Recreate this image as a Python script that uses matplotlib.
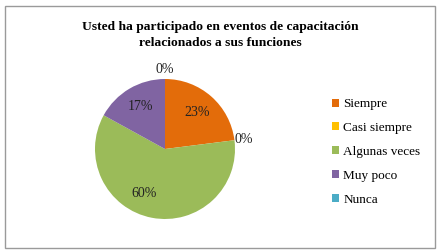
import numpy as np
import matplotlib
matplotlib.use("Agg")
import matplotlib.pyplot as plt
from matplotlib.patches import Rectangle, Patch

# Data
categories = ["Siempre", "Casi siempre", "Algunas veces", "Muy poco", "Nunca"]
percents = [23, 0, 60, 17, 0]
colors = ["#E36C0A", "#FFC000", "#9BBB59", "#8064A2", "#4BACC6"]
title = "Usted ha participado en eventos de capacitación\nrelacionados a sus funciones"

plt.rcParams['font.family'] = ['Liberation Serif', 'DejaVu Serif']

W, H = 440, 252
fig = plt.figure(figsize=(W / 100, H / 100), dpi=100)
fig.patch.set_facecolor("white")

# outer chart border
fig.patches.append(Rectangle((5 / W, 4 / H), 430 / W, 242 / H, transform=fig.transFigure,
                             fill=False, edgecolor="#9a9a9a", linewidth=1.0))

fig.text(220 / W, 1 - 35 / H, title, ha="center", va="center", fontsize=9.7,
         fontweight="bold", linespacing=1.4)

# pie axes: centre (165,149) px, radius 70 px
cx, cy, r = 165, 149, 70
ax = fig.add_axes([(cx - r) / W, (H - cy - r) / H, 2 * r / W, 2 * r / H])
wedges, _ = ax.pie(percents, colors=colors, startangle=90, counterclock=False,
                   radius=1.0, wedgeprops=dict(linewidth=0))
ax.set_xlim(-1, 1)
ax.set_ylim(-1, 1)
ax.set_aspect("equal")
ax.axis("off")

# data labels, roughly where the "best fit" placement put them
angle_shift = {2: -15}
for i, (w, p) in enumerate(zip(wedges, percents)):
    theta = np.deg2rad((w.theta1 + w.theta2) / 2 + angle_shift.get(i, 0))
    dist = 0.7 if p > 0 else 1.13
    ax.text(dist * np.cos(theta), dist * np.sin(theta), f"{p}%", ha="center",
            va="center", fontsize=10, color="#222222", clip_on=False)

handles = [Patch(facecolor=c, edgecolor="none") for c in colors]
fig.legend(handles, categories, loc="center left", bbox_to_anchor=(332 / W, 1 - 152 / H),
           frameon=False, fontsize=9.5, handlelength=0.55, handleheight=0.55,
           handletextpad=0.3, labelspacing=0.9, borderpad=0, borderaxespad=0)

fig.savefig("out.png", dpi=100)
